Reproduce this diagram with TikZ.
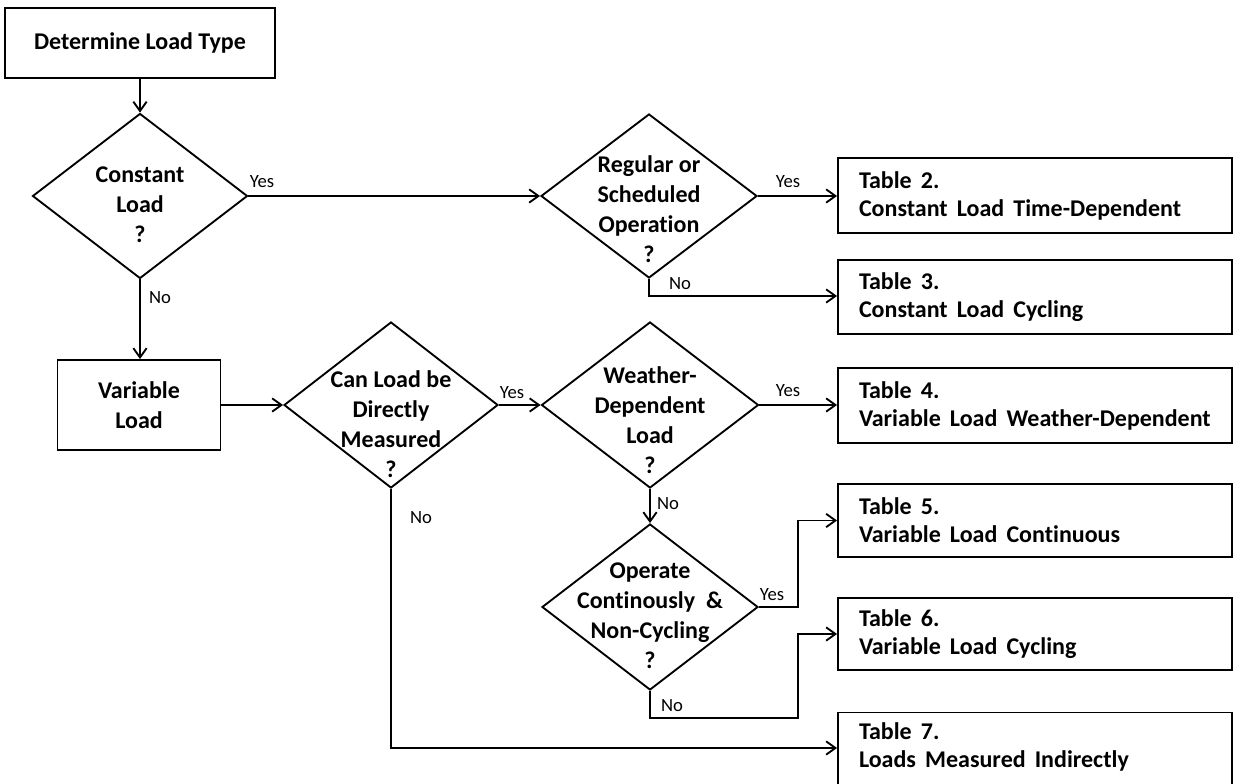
\documentclass[tikz,border=0pt]{standalone}
\usepackage{fontspec}
\setmainfont{Carlito}[RawFeature={-liga}]
\usetikzlibrary{shapes.geometric,arrows.meta}
\newcommand{\widespace}{\spaceskip=0.38em\relax}
\begin{document}
\begin{tikzpicture}[x=0.75pt,y=-0.75pt,
  every path/.style={line width=1.4pt},
  arr/.style={-{Straight Barb[length=7pt,width=10pt,line width=1.4pt]}},
  box/.style={draw, rectangle, line width=1.4pt, inner sep=0pt, font=\fontsize{18}{22.5}\selectfont\bfseries, align=center},
  tbl/.style={draw, rectangle, line width=1.4pt, inner sep=0pt, minimum width=295.5pt},
  ttxt/.style={anchor=west, inner sep=0pt, align=left, font=\fontsize{18}{21}\selectfont\bfseries\widespace},
  dia/.style={draw, diamond, line width=1.4pt, inner sep=0pt},
  dtxt/.style={font=\fontsize{18}{22.5}\selectfont\bfseries, align=center, inner sep=0pt},
  lab/.style={font=\fontsize{14}{16}\selectfont, inner sep=0pt}]
\useasboundingbox (0,0) rectangle (1233,784);
\fill[white] (0,0) rectangle (1233,784);

% boxes
\node[box, minimum width=202.5pt, minimum height=52.5pt] (start) at (140,43) {Determine Load Type};
\node[box, minimum width=122.25pt, minimum height=67.5pt] (vl) at (139,405) {Variable\\Load};

% diamonds
\node[dia, minimum width=161.25pt, minimum height=123.75pt] (cl) at (140,196) {};
\node[dtxt] (clt) at (140,205) {Constant\\Load\\?};
\node[dia, minimum width=162pt, minimum height=123pt] (rs) at (649,196) {};
\node[dtxt] (rst) at (649,209) {Regular or\\Scheduled\\Operation\\?};
\node[dia, minimum width=160.5pt, minimum height=124.5pt] (cm) at (391,405) {};
\node[dtxt] (cmt) at (391,424) {Can Load be\\Directly\\Measured\\?};
\node[dia, minimum width=162.75pt, minimum height=124.5pt] (wd) at (650,405) {};
\node[dtxt] (wdt) at (650,420) {Weather-\\Dependent\\Load\\?};
\node[dia, minimum width=162pt, minimum height=124.5pt] (op) at (650,607) {};
\node[dtxt] (opt) at (650,616) {Operate\\Continously \ \&\\Non-Cycling\\?};

% tables
\node[tbl, minimum height=56.25pt] (t2) at (1035,195.5) {};
\node[ttxt] (t2t) at ([xshift=15.75pt]t2.west) {Table 2.\\Constant Load Time-Dependent};
\node[tbl, minimum height=55.5pt] (t3) at (1035,297) {};
\node[ttxt] (t3t) at ([xshift=15.75pt]t3.west) {Table 3.\\Constant Load Cycling};
\node[tbl, minimum height=56.25pt] (t4) at (1035,405.5) {};
\node[ttxt] (t4t) at ([xshift=15.75pt]t4.west) {Table 4.\\Variable Load Weather-Dependent};
\node[tbl, minimum height=54.75pt] (t5) at (1035,520.5) {};
\node[ttxt] (t5t) at ([xshift=15.75pt]t5.west) {Table 5.\\Variable Load Continuous};
\node[tbl, minimum height=54pt] (t6) at (1035,634) {};
\node[ttxt] (t6t) at ([xshift=15.75pt]t6.west) {Table 6.\\Variable Load Cycling};
\node[tbl, minimum height=56.25pt] (t7) at (1035,750) {};
\node[ttxt] (t7t) at ([xshift=15.75pt]t7.west |- 0,747) {Table 7.\\Loads Measured Indirectly};

% connectors
\draw[arr] (start.south) -- (cl.north);
\draw[arr] (cl.east) -- (rs.west);
\node[lab] (y1) at (262,182) {Yes};
\draw[arr] (rs.east) -- (t2.west |- rs.east);
\node[lab] (y2) at (788,182) {Yes};
\coordinate (rsb) at (649,296);
\draw[arr] (rs.south) -- (rsb) -- (rsb -| t3.west);
\node[lab] (n2) at (680,284) {No};
\draw[arr] (cl.south) -- (cl.south |- vl.north);
\node[lab] (n1) at (160,298) {No};
\draw[arr] (vl.east |- cm.west) -- (cm.west);
\draw[arr] (cm.east) -- (wd.west);
\node[lab] (y3) at (512,393) {Yes};
\draw[arr] (wd.east) -- (wd.east -| t4.west);
\node[lab] (y4) at (788,391) {Yes};
\draw[arr] (wd.south) -- (op.north);
\node[lab] (n3) at (668,504) {No};
\coordinate (opy) at (798,607);
\draw[arr] (op.east) -- (opy) -- (opy |- t5.west) -- (t5.west);
\node[lab] (y5) at (772,595) {Yes};
\coordinate (opn) at (650,718);
\coordinate (opn2) at (798,718);
\draw[arr] (op.south) -- (opn) -- (opn2) -- (opn2 |- t6.west) -- (t6.west);
\node[lab] (n4) at (672,706) {No};
\coordinate (cmn) at (391,748);
\draw[arr] (cm.south) -- (cmn) -- (cmn -| t7.west);
\node[lab] (n5) at (421,518) {No};
\end{tikzpicture}
\end{document}
